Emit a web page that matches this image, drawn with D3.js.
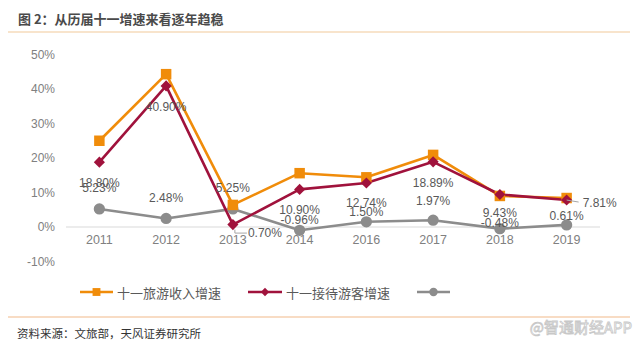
<!DOCTYPE html>
<html><head><meta charset="utf-8">
<script src="https://cdn.jsdelivr.net/npm/d3@7"></script>
<style>
html,body{margin:0;padding:0;background:#fff;}
svg{display:block;}
</style></head>
<body>
<svg id="chart" width="634" height="346"></svg>
<script>
const categories = ["2011","2012","2013","2014","2016","2017","2018","2019"];
const revenueGrowth = [25.0, 44.3, 6.4, 15.6, 14.4, 20.9, 9.0, 8.4];
const visitorGrowth = [18.80, 40.90, 0.70, 10.90, 12.74, 18.89, 9.43, 7.81];
const perCapitaGrowth = [5.23, 2.48, 5.25, -0.96, 1.50, 1.97, -0.48, 0.61];
const yTicks = [-10, 0, 10, 20, 30, 40, 50];
const seriesNames = ["十一旅游收入增速", "十一接待游客增速", ""];
const titleText = "图 2：从历届十一增速来看逐年趋稳";
const sourceText = "资料来源：文旅部，天风证券研究所";
const watermarkText = "@智通财经APP";
// label offsets (style): red labels below, gray labels above
const visitorLabelDy = [21, 21, 0, 21, 20, 21, 19, 0];
const grayLabelDy = [-21, -20, -21, -10, -10, -19, -6, -9];

const svg = d3.select("#chart");
const cjk = "'Noto Sans CJK SC', 'Noto Sans', sans-serif";
const latin = "'Liberation Sans', Arial, sans-serif";
const cOrange = "#F08C0A", cRed = "#A0123C", cGray = "#8C8C8C";

// title
svg.append("text").attr("x", 18).attr("y", 18).attr("dominant-baseline", "central")
  .attr("font-family", cjk).attr("font-weight", "bold").attr("font-size", 13)
  .attr("fill", "#4a4a4a").text(titleText);
svg.append("line").attr("x1", 8).attr("x2", 630).attr("y1", 32).attr("y2", 32)
  .attr("stroke", "#F2C99A").attr("stroke-width", 1.2);

const x = d3.scaleBand().domain(categories).range([66, 600]).padding(0);
const y = d3.scaleLinear().domain([-10, 50]).range([261.5, 54.5]);
const cx = d => x(d) + x.bandwidth() / 2;

// y axis labels
const yAxis = d3.axisLeft(y).tickValues(yTicks).tickFormat(d => d + "%").tickSize(0).tickPadding(0);
const gy = svg.append("g").attr("transform", "translate(55,0)").call(yAxis);
gy.select(".domain").remove();
gy.selectAll("text").attr("font-family", latin).attr("font-size", 12).attr("fill", "#808080");

// zero line
svg.append("line").attr("x1", 66).attr("x2", 600).attr("y1", y(0)).attr("y2", y(0))
  .attr("stroke", "#D9D9D9").attr("stroke-width", 1);

// x axis labels
const xAxis = d3.axisBottom(x).tickSize(0).tickPadding(0);
const gx = svg.append("g").attr("transform", "translate(0,235)").call(xAxis);
gx.select(".domain").remove();
gx.selectAll("text").attr("font-family", latin).attr("font-size", 12.5).attr("fill", "#808080");

const line = d3.line().x((d, i) => cx(categories[i])).y(d => y(d));

function drawSeries(vals, color) {
  svg.append("path").datum(vals).attr("d", line).attr("fill", "none")
    .attr("stroke", color).attr("stroke-width", 2.6).attr("stroke-linejoin", "round");
}
drawSeries(perCapitaGrowth, cGray);
drawSeries(revenueGrowth, cOrange);
drawSeries(visitorGrowth, cRed);

const sq = d3.symbol().type(d3.symbolSquare).size(110);
const dia = d3.symbol().type(d3.symbolSquare).size(62);
const cir = d3.symbol().type(d3.symbolCircle).size(100);

svg.append("g").selectAll("path").data(perCapitaGrowth).join("path")
  .attr("d", cir).attr("fill", cGray)
  .attr("transform", (d, i) => `translate(${cx(categories[i])},${y(d)})`);
svg.append("g").selectAll("path").data(revenueGrowth).join("path")
  .attr("d", sq).attr("fill", cOrange)
  .attr("transform", (d, i) => `translate(${cx(categories[i])},${y(d)})`);
svg.append("g").selectAll("path").data(visitorGrowth).join("path")
  .attr("d", dia).attr("fill", cRed)
  .attr("transform", (d, i) => `translate(${cx(categories[i])},${y(d)}) rotate(45)`);

const labelFont = (s) => s.attr("font-family", latin).attr("font-size", 12)
  .attr("fill", "#595959").attr("dominant-baseline", "central");

// gray labels (above)
svg.append("g").selectAll("text").data(perCapitaGrowth).join("text")
  .attr("x", (d, i) => cx(categories[i])).attr("y", (d, i) => y(d) + grayLabelDy[i])
  .attr("text-anchor", "middle").call(labelFont).text(d => d.toFixed(2) + "%");

// red labels
const lbl = svg.append("g");
visitorGrowth.forEach((v, i) => {
  const px = cx(categories[i]), py = y(v);
  if (i === 2) {
    lbl.append("path").attr("d", `M${px + 2},${py + 5}L${px + 2},${py + 8.5}L${px + 14},${py + 8.5}`)
      .attr("fill", "none").attr("stroke", "#A6A6A6").attr("stroke-width", 1);
    lbl.append("text").attr("x", px + 15).attr("y", py + 8.5).call(labelFont).text(v.toFixed(2) + "%");
  } else if (i === 7) {
    lbl.append("path").attr("d", `M${px},${py}L${px + 12},${py + 2}`)
      .attr("fill", "none").attr("stroke", "#A6A6A6").attr("stroke-width", 1);
    lbl.append("text").attr("x", px + 16).attr("y", py + 2.5).call(labelFont).text(v.toFixed(2) + "%");
  } else {
    lbl.append("text").attr("x", px).attr("y", py + visitorLabelDy[i]).attr("text-anchor", "middle")
      .call(labelFont).text(v.toFixed(2) + "%");
  }
});

// legend
const legend = [
  {x1: 80, x2: 113, name: seriesNames[0], color: cOrange, sym: sq, sc: "scale(0.75)"},
  {x1: 248, x2: 282, name: seriesNames[1], color: cRed, sym: dia, sc: "rotate(45) scale(0.75)"},
  {x1: 417, x2: 450, name: seriesNames[2], color: cGray, sym: cir, sc: "scale(0.75)"}
];
const lg = svg.append("g");
legend.forEach(L => {
  lg.append("line").attr("x1", L.x1).attr("x2", L.x2).attr("y1", 292).attr("y2", 292)
    .attr("stroke", L.color).attr("stroke-width", 2.6);
  lg.append("path").attr("d", L.sym).attr("fill", L.color)
    .attr("transform", `translate(${(L.x1 + L.x2) / 2},292) ${L.sc}`);
  if (L.name) lg.append("text").attr("x", L.x2 + 4).attr("y", 292).attr("dominant-baseline", "central")
    .attr("font-family", cjk).attr("font-size", 13).attr("fill", "#595959").text(L.name);
});

// footer
svg.append("line").attr("x1", 8).attr("x2", 630).attr("y1", 317).attr("y2", 317)
  .attr("stroke", "#F2B98A").attr("stroke-width", 1.2);
svg.append("text").attr("x", 17).attr("y", 333).attr("dominant-baseline", "central")
  .attr("font-family", cjk).attr("font-size", 11.5).attr("fill", "#333").text(sourceText);
svg.append("text").attr("x", 632).attr("y", 326).attr("dominant-baseline", "central")
  .attr("text-anchor", "end").attr("font-family", cjk).attr("font-size", 15)
  .attr("fill", "#fff").attr("stroke", "#C8C8C8").attr("stroke-width", 0.8).text(watermarkText);
</script>
</body></html>
